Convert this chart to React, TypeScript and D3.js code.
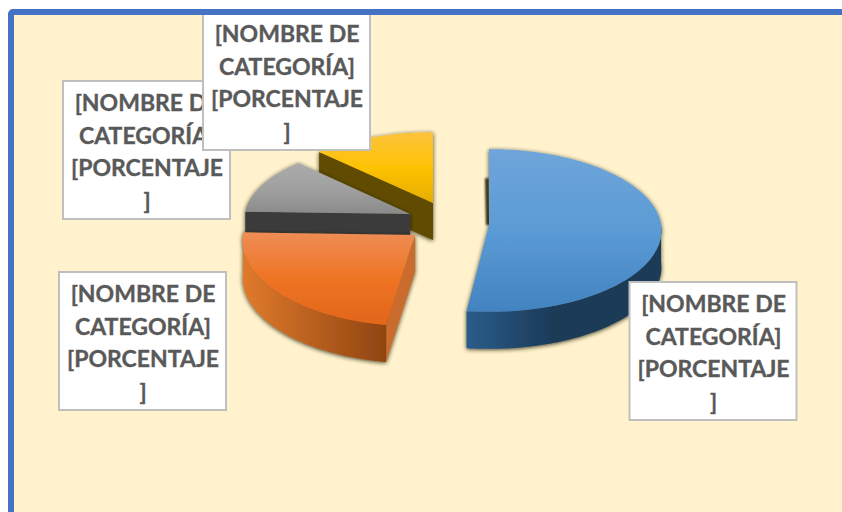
import React from "react";
import * as d3 from "d3";

const categoryLines = [
  ["[NOMBRE DE", "CATEGORÍA]"],
  ["[NOMBRE DE", "CATEGORÍA]"],
  ["[NOMBRE DE", "CATEGORÍA]"],
  ["[NOMBRE DE", "CATEGORÍA]"],
];
const percentLines = [
  ["[PORCENTAJE", "]"],
  ["[PORCENTAJE", "]"],
  ["[PORCENTAJE", "]"],
  ["[PORCENTAJE", "]"],
];
const values = [52.5, 23, 12, 12.5];

const W = 842, H = 512;
const cx = 489, cy = 225, R = 172, S = 81, K = 0.0675, DEPTH = 37;
const explode: [number, number][] = [[0, 0], [-74, 10], [-79, -11], [-56, -22]];
const radius = [1, 1, 0.96, 0.98];
const yScale = [1, 1.05, 0.97, 0.95];
const endTrim = [0.035, 0, 0, 0];
const topStops = [
  ["#6fa5da", "#5b9bd5", "#4283c0"],
  ["#ef8d55", "#ee7424", "#e2661a"],
  ["#ababab", "#a0a0a0", "#8a8a8a"],
  ["#fcc33c", "#fdc202", "#e6ad00"],
];
const wallStops = [
  ["#2b5c8a", "#1b3a57"],
  ["#e07a2c", "#8f4510"],
  ["#3b3b3b", "#3b3b3b"],
  ["#6a5205", "#5c4700"],
];
const wallMid = [0.45, 1, 1, 1];
const cutColor = ["none", "#c96c2d", "#3b3b3b", "#614b02"];
const labelBoxes = [
  { x: 629.5, y: 282, i: 0 },
  { x: 59, y: 272, i: 1 },
  { x: 63, y: 81, i: 2 },
  { x: 203, y: 12, i: 3 },
];

function project(a: number, r: number, ys: number): [number, number] {
  const v = Math.cos(a) * r;
  const w = 1 / (1 + K * v);
  return [R * Math.sin(a) * r * w, -S * ys * v * w];
}

const pie = d3.pie<number>().sort(null).value((d) => d);
const arcs = pie(values);
const line = d3.line();

function samples(a0: number, a1: number) {
  const n = Math.max(2, Math.ceil(Math.abs(a1 - a0) / 0.02));
  const t = d3.scaleLinear().domain([0, n]).range([a0, a1]);
  return d3.range(n + 1).map((i) => t(i));
}

export default function App() {
  const order = [3, 2, 1, 0];
  const backTop = project(0, 1, 1);
  return (
    <svg width={W} height={H} style={{ position: "absolute", left: 0, top: 0 }}>
      <defs>
        <filter id="sh" x="-15%" y="-15%" width="130%" height="130%">
          <feDropShadow dx={0} dy={1} stdDeviation={2} floodColor="#1e1a0a" floodOpacity={0.85} />
        </filter>
        <filter id="soft" x="-400%" y="-20%" width="900%" height="140%">
          <feGaussianBlur stdDeviation={1} />
        </filter>
        {topStops.map((s, i) => (
          <linearGradient key={i} id={`top${i}`} x1={0} y1={0} x2={0} y2={1}>
            <stop offset="0" stopColor={s[0]} />
            <stop offset="0.5" stopColor={s[1]} />
            <stop offset="1" stopColor={s[2]} />
          </linearGradient>
        ))}
        {wallStops.map((s, i) => (
          <linearGradient key={i} id={`wall${i}`} x1={0} y1={0} x2={1} y2={0}>
            <stop offset="0" stopColor={s[0]} />
            <stop offset={wallMid[i]} stopColor={s[1]} />
            <stop offset="1" stopColor={s[1]} />
          </linearGradient>
        ))}
      </defs>
      <rect x={0} y={0} width={W} height={H} fill="#ffffff" />
      <rect x={11} y={12} width={W + 20} height={H + 20} rx={2} fill="#fff2cc" />
      <path
        d={line([[backTop[0] - 2, backTop[1] + DEPTH - 8], [-1, 0]]) as string}
        transform={`translate(${cx},${cy})`}
        stroke="#3a3018"
        strokeWidth={4}
        fill="none"
        filter="url(#soft)"
      />
      {order.map((i) => {
        const a = arcs[i];
        const ox = cx + explode[i][0];
        const oy = cy + explode[i][1];
        const r = radius[i];
        const ys = yScale[i];
        const end = a.endAngle - endTrim[i];
        const rim = samples(a.startAngle, end).map((t) => project(t, r, ys));
        const top = line([[0, 0], ...rim, [0, 0]]) + "Z";
        const lo = Math.max(a.startAngle, Math.PI / 2);
        const hi = Math.min(end, (3 * Math.PI) / 2);
        let wall: string | null = null;
        if (hi > lo) {
          const pts = samples(lo, hi).map((t) => project(t, r, ys));
          const low = pts.map(([x, y]) => [x, y + DEPTH] as [number, number]).reverse();
          wall = line([...pts, ...low]) + "Z";
        }
        const e = project(a.startAngle, r, ys);
        const cut =
          cutColor[i] === "none"
            ? null
            : line([[0, 0], e, [e[0], e[1] + DEPTH], [0, DEPTH]]) + "Z";
        return (
          <g key={i} transform={`translate(${ox},${oy})`} filter="url(#sh)">
            {cut && <path d={cut} fill={cutColor[i]} />}
            {wall && <path d={wall} fill={`url(#wall${i})`} />}
            <path d={top} fill={`url(#top${i})`} />
          </g>
        );
      })}
      {labelBoxes.map((b) => {
        const lines = [...categoryLines[b.i], ...percentLines[b.i]];
        const tx = b.x + 84;
        return (
          <g key={b.i}>
            <rect x={b.x} y={b.y} width={167} height={138} fill="#ffffff" stroke="#bfbfbf" strokeWidth={2} />
            <text
              fontFamily="Lato, 'Open Sans', sans-serif"
              fontWeight={700}
              fontSize={23}
              fill="#595959"
              stroke="#595959"
              strokeWidth={0.35}
              textAnchor="middle"
            >
              {lines.map((l, k) => (
                <tspan key={k} x={tx} y={b.y + 30 + k * 32.6}>
                  {l}
                </tspan>
              ))}
            </text>
          </g>
        );
      })}
      <rect x={11} y={12} width={W + 20} height={H + 20} rx={2} fill="none" stroke="#4472c4" strokeWidth={6} />
    </svg>
  );
}
